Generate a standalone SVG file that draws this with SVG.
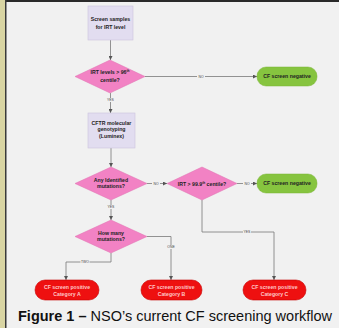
<svg xmlns="http://www.w3.org/2000/svg" width="339" height="328" viewBox="0 0 339 328">
<defs>
<marker id="ah" viewBox="0 0 6 6" refX="6" refY="3" markerWidth="4" markerHeight="4" orient="auto" markerUnits="userSpaceOnUse"><path d="M0,0 L6,3 L0,6 z" fill="#555"/></marker>
<style>
.t{font-family:"Liberation Sans",Arial,sans-serif;font-weight:bold;font-size:5.2px;fill:#222;text-anchor:middle}
.tr{fill:#ffc8c8}
.box{fill:#e2ddf0;stroke:#cbc4de;stroke-width:0.6}
.dia{fill:#f282c4;stroke:#e070b0;stroke-width:0.5}
.grn{fill:#86c43f;stroke:#7ab535;stroke-width:0.5}
.red{fill:#ee1010;stroke:#c80000;stroke-width:0.6}
.ln{fill:none;stroke:#7a7a7a;stroke-width:0.8}
.lb{font-family:"Liberation Sans",Arial,sans-serif;font-size:3.4px;fill:#444;text-anchor:middle}
.lbg{fill:#f1f1f1}
.cap{font-family:"Liberation Sans",Arial,sans-serif;font-size:14.5px;fill:#111}
</style>
</defs>
<rect x="0" y="0" width="339" height="328" fill="#f1f1f1"/>
<rect x="0" y="0" width="5" height="328" fill="#d9d5a3"/>
<rect x="5" y="0" width="334" height="2" fill="#2a2a2a"/>
<rect x="5" y="0" width="1.5" height="328" fill="#3a3a3a"/>

<g id="connectors">
<path class="ln" d="M110.5,40 V60" marker-end="url(#ah)"/>
<path class="ln" d="M145,76.5 H257" marker-end="url(#ah)"/>
<path class="ln" d="M110.5,93 V113" marker-end="url(#ah)"/>
<path class="ln" d="M111,148 V167" marker-end="url(#ah)"/>
<path class="ln" d="M147,183.5 H167" marker-end="url(#ah)"/>
<path class="ln" d="M237,183.5 H257" marker-end="url(#ah)"/>
<path class="ln" d="M111,200 V220" marker-end="url(#ah)"/>
<path class="ln" d="M202,200 V232 H274 V280" marker-end="url(#ah)"/>
<path class="ln" d="M111,253 V262 H66 V280" marker-end="url(#ah)"/>
<path class="ln" d="M147,236.5 H171 V280" marker-end="url(#ah)"/>
<rect class="lbg" x="197" y="74.5" width="8" height="4"/><text class="lb" x="201" y="77.7">NO</text>
<rect class="lbg" x="106.5" y="98" width="8" height="4"/><text class="lb" x="110.5" y="101.2">YES</text>
<rect class="lbg" x="152" y="181.5" width="8" height="4"/><text class="lb" x="156" y="184.7">NO</text>
<rect class="lbg" x="243" y="181.5" width="8" height="4"/><text class="lb" x="247" y="184.7">NO</text>
<rect class="lbg" x="107" y="205" width="8" height="4"/><text class="lb" x="111" y="208.2">YES</text>
<rect class="lbg" x="243" y="230" width="8" height="4"/><text class="lb" x="247" y="233.2">YES</text>
<rect class="lbg" x="80.5" y="260" width="9" height="4"/><text class="lb" x="85" y="263.2">TWO</text>
<rect class="lbg" x="166.5" y="245" width="9" height="4"/><text class="lb" x="171" y="248.2">ONE</text>
</g>

<g id="screen-samples">
<rect class="box" x="88" y="6" width="45" height="34"/>
<text class="t" x="110.5" y="20.5">Screen samples</text>
<text class="t" x="110.5" y="28.5">for IRT level</text>
</g>
<g id="irt-96">
<polygon class="dia" points="110,60 145,76.5 110,93 75,76.5"/>
<text class="t" x="110" y="73.8">IRT levels &gt; 96<tspan font-size="3.2px" dy="-1.8">th</tspan></text>
<text class="t" x="110" y="82.3">centile?</text>
</g>
<g id="neg1">
<rect class="grn" x="257" y="67" width="60" height="19" rx="9" ry="9"/>
<text class="t" x="287" y="78.3">CF screen negative</text>
</g>
<g id="cftr">
<rect class="box" x="88" y="113" width="47" height="35"/>
<text class="t" x="111.5" y="124.5">CFTR molecular</text>
<text class="t" x="111.5" y="131.2">genotyping</text>
<text class="t" x="111.5" y="138">(Luminex)</text>
</g>
<g id="any-mutations">
<polygon class="dia" points="111,167 147,183.5 111,200 75,183.5"/>
<text class="t" x="111" y="181.6">Any Identified</text>
<text class="t" x="111" y="188">mutations?</text>
</g>
<g id="irt-999">
<polygon class="dia" points="202,167 237,183.5 202,200 167,183.5"/>
<text class="t" x="202" y="185.5">IRT &gt; 99.9<tspan font-size="3.2px" dy="-1.8">th</tspan><tspan dy="1.8"> centile?</tspan></text>
</g>
<g id="neg2">
<rect class="grn" x="257" y="174" width="60" height="19" rx="9" ry="9"/>
<text class="t" x="287" y="185.3">CF screen negative</text>
</g>
<g id="how-many">
<polygon class="dia" points="111,220 147,236.5 111,253 75,236.5"/>
<text class="t" x="111" y="234.6">How many</text>
<text class="t" x="111" y="241.2">mutations?</text>
</g>
<g id="pos-a">
<rect class="red" x="35" y="280" width="64" height="20" rx="10" ry="10"/>
<text class="t tr" x="67" y="288.6">CF screen positive</text>
<text class="t tr" x="67" y="295.6">Category A</text>
</g>
<g id="pos-b">
<rect class="red" x="141" y="280" width="61" height="20" rx="10" ry="10"/>
<text class="t tr" x="171.5" y="288.6">CF screen positive</text>
<text class="t tr" x="171.5" y="295.6">Category B</text>
</g>
<g id="pos-c">
<rect class="red" x="243" y="280" width="63" height="20" rx="10" ry="10"/>
<text class="t tr" x="274.5" y="288.6">CF screen positive</text>
<text class="t tr" x="274.5" y="295.6">Category C</text>
</g>
<text class="cap" x="18" y="320.5"><tspan font-weight="bold">Figure 1 –</tspan> NSO’s current CF screening workflow</text>
</svg>
